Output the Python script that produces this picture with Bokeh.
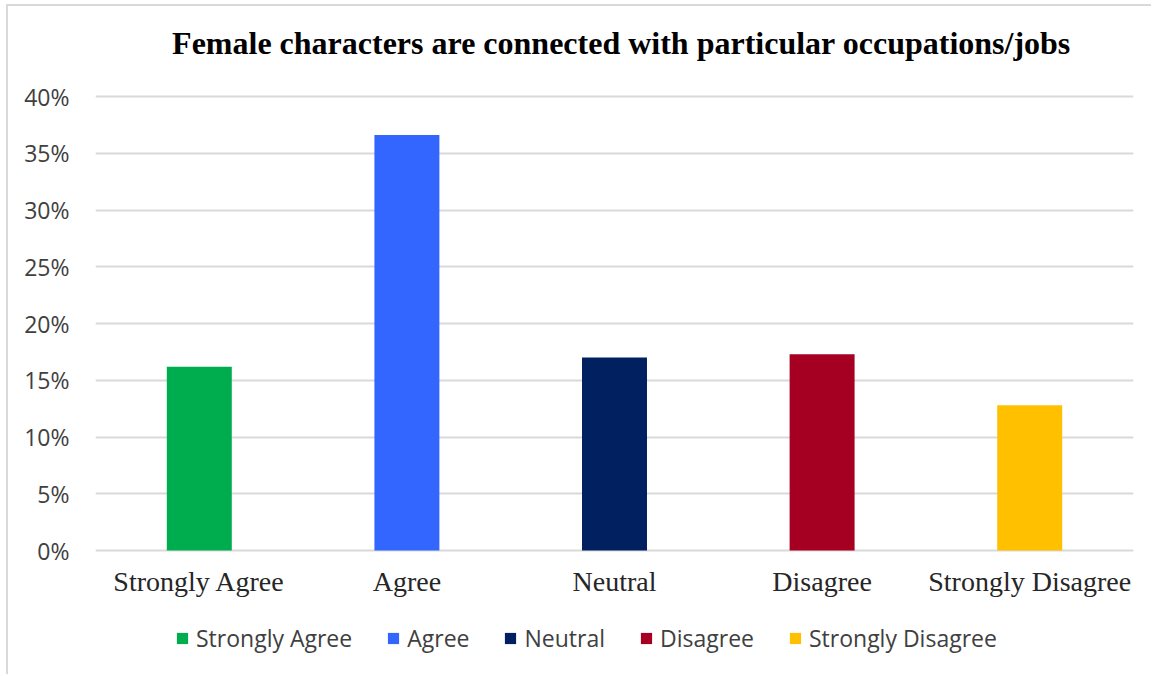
from bokeh.plotting import figure
from bokeh.models import ColumnDataSource, FixedTicker, PrintfTickFormatter, Legend, LegendItem, Range1d, Label
from bokeh.core.properties import value
from bokeh.embed import file_html
from bokeh.resources import INLINE

# Survey responses (percent of respondents)
title_text = "Female characters are connected with particular occupations/jobs"
categories = ["Strongly Agree", "Agree", "Neutral", "Disagree", "Strongly Disagree"]
shares = [16.2, 36.6, 17.0, 17.3, 12.8]
colors = ["#00AD4E", "#3366FF", "#002060", "#A50021", "#FFC000"]
y_ticks = [0, 5, 10, 15, 20, 25, 30, 35, 40]

# Layout: the plot frame spans the whole card, so the title, the category
# labels and the legend all sit inside it; the value range is padded above
# 40% and below 0% to make room for them.
FRAME_H = 654          # frame height in px
ZERO_PX = 544          # px from frame top down to the 0% line
TOP_PAD_PX = 90        # px from frame top down to the 40% line
px_per_unit = (ZERO_PX - TOP_PAD_PX) / 40
y_end = 40 + TOP_PAD_PX / px_per_unit
y_start = -(FRAME_H - ZERO_PX) / px_per_unit
label_y = -31 / px_per_unit

src = ColumnDataSource(dict(cat=categories, share=shares, color=colors))

p = figure(
    x_range=categories, y_range=Range1d(y_start, y_end),
    width=1145, height=670,
    output_backend="svg", toolbar_location=None,
    min_border_left=87, min_border_right=20,
    min_border_top=0, min_border_bottom=16,
)
p.margin = (4, 0, 0, 6)
p.styles = {"border-left": "2px solid #d9d9d9", "border-top": "2px solid #d9d9d9"}
p.outline_line_color = None
p.background_fill_color = "white"
p.border_fill_color = "white"

bars = p.vbar(x="cat", top="share", width=0.313, bottom=0, color="color", line_color=None, source=src)

# category labels under the 0% line
p.text(x=categories, y=[label_y] * len(categories), text=categories,
       text_font=value("Liberation Serif"), text_font_size="28px",
       text_color="#262626", text_align="center", text_baseline="middle")

# chart title
p.add_layout(Label(
    x=526, y=618, x_units="screen", y_units="screen", text=title_text,
    text_font="Liberation Serif", text_font_style="bold", text_font_size="32px",
    text_color="#000000", text_align="center", text_baseline="middle",
))

# y axis
p.yaxis.ticker = FixedTicker(ticks=y_ticks)
p.yaxis.formatter = PrintfTickFormatter(format="%d%%")
p.yaxis.axis_line_color = None
p.yaxis.major_tick_line_color = None
p.yaxis.minor_tick_line_color = None
p.yaxis.major_label_text_font = "Open Sans"
p.yaxis.major_label_text_font_size = "23px"
p.yaxis.major_label_text_color = "#404040"
p.yaxis.major_label_standoff = 20

p.xaxis.visible = False
p.xgrid.grid_line_color = None
p.ygrid.grid_line_color = "#d9d9d9"
p.ygrid.grid_line_width = 2

legend = Legend(
    items=[LegendItem(label=c, renderers=[bars], index=i) for i, c in enumerate(categories)],
    orientation="horizontal",
    location=(80, 6),
    glyph_width=14, glyph_height=14,
    label_standoff=7, spacing=34, padding=0, margin=0,
    label_text_font="Open Sans", label_text_font_size="23px",
    label_text_color="#404040",
    border_line_color=None, background_fill_alpha=0,
)
p.add_layout(legend)

open("out.html", "w").write(file_html(p, INLINE))
